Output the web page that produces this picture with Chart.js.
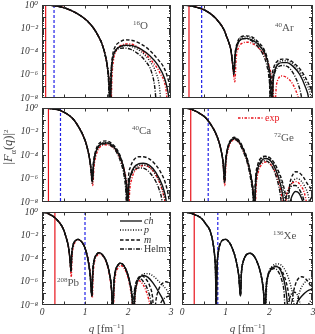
<!DOCTYPE html>
<html><head><meta charset="utf-8">
<script src="https://cdn.jsdelivr.net/npm/chart.js@4.4.1/dist/chart.umd.min.js"></script>
<style>
html,body{margin:0;padding:0;background:#fff;}
#wrap{position:relative;width:315px;height:334px;overflow:hidden;font-family:'Liberation Serif','DejaVu Serif',serif;}
canvas{position:absolute;}
.lbl{position:absolute;font-size:11px;line-height:12px;color:#555;white-space:nowrap;}
.sup{font-size:7px;position:relative;top:-4px;}
.ttl{position:absolute;font-size:11px;line-height:12px;color:#444;white-space:nowrap;text-align:center;}
.ytl{font-size:12.5px;}
</style></head><body><div id="wrap"></div>
<script>
// ---------- tick labels ----------
const Q_TICKS = [0, 1, 2, 3];
const Q_TICK_LABELS = ['0', '1', '2', '3'];
const Y_TICKS = [1, 1e-2, 1e-4, 1e-6, 1e-8];
const Y_TICK_LABELS = ['10\u2070', '10\u207B\u00B2', '10\u207B\u2074', '10\u207B\u2076', '10\u207B\u2078'];
const SERIES_KEYS = ['ch', 'p', 'm', 'h', 'exp'];
const SERIES_LABELS = ['ch', 'p', 'm', 'Helm', 'exp'];

// ---------- 16O ----------
const O16_vlines = [0.085, 0.28];
const O16_lobe1_q = [0,0.2,0.4,0.6,0.8,1.0,1.1,1.2,1.3,1.4,1.47,1.52];
const O16_lobe1 = [1,0.93,0.74,0.45,0.2,0.063,0.028,0.01,2.5e-3,4.0e-4,5.0e-5,5.0e-6];
const O16_ch_q = [1.56,1.585,1.61,1.64,1.70,1.80,1.95,2.1,2.3,2.5,2.7,2.85,2.93,2.98];
const O16_ch = [1.6e-7,1e-9,1e-6,2.0e-5,1.1e-4,2.5e-4,3.5e-4,3.2e-4,1.6e-4,4.5e-5,6.3e-6,5.0e-7,3.2e-8,1e-9];
const O16_m_q = [1.56,1.58,1.61,1.64,1.70,1.80,1.95,2.1,2.3,2.5,2.7,2.85,2.95,3.0];
const O16_m = [2.5e-7,1e-9,1.6e-6,4.0e-5,2.5e-4,6.3e-4,1.0e-3,8.9e-4,4.5e-4,1.3e-4,2.0e-5,3.2e-6,2.5e-7,5.0e-8];
const O16_p_q = [1.56,1.59,1.62,1.65,1.72,1.85,1.95,2.1,2.3,2.5,2.65,2.73,2.78];
const O16_p = [1.3e-7,1e-9,1.6e-6,2.5e-5,1.3e-4,2.8e-4,3.2e-4,2.5e-4,1.0e-4,1.6e-5,1.6e-6,1.0e-7,1e-9];
const O16_h_q = [1.55,1.57,1.60,1.63,1.70,1.80,1.9,2.05,2.2,2.4,2.55,2.62,2.67];
const O16_h = [1.6e-7,1e-9,1e-6,1.6e-5,1e-4,1.8e-4,2.0e-4,1.6e-4,7.9e-5,1.6e-5,1.6e-6,1e-7,1e-9];
const O16_exp_q = [1.56,1.60,1.63,1.66,1.73,1.85,2.0,2.15,2.35,2.55,2.75,2.88,2.93];
const O16_exp = [3.2e-7,1e-9,1e-6,1.6e-5,1.3e-4,3.5e-4,4.5e-4,3.5e-4,1e-4,1.6e-5,1.3e-6,6.3e-8,1e-9];

// ---------- 40Ar ----------
const Ar40_vlines = [0.16, 0.45];
const Ar40_lobe1_q = [0,0.2,0.4,0.53,0.65,0.76,0.85,0.91,0.97,1.02,1.07,1.12];
const Ar40_lobe1 = [1,0.85,0.54,0.35,0.18,0.079,0.032,0.016,6.3e-3,2.0e-3,6.3e-4,1.3e-4];
const Ar40_ch_q = [1.16,1.19,1.22,1.27,1.35,1.47,1.6,1.75,1.9,1.98,2.03,2.06,2.09,2.13,2.2,2.3,2.4,2.55,2.7,2.82,2.9,2.93];
const Ar40_ch = [1e-5,1.3e-6,5.0e-5,4.0e-4,1.1e-3,1.35e-3,1e-3,4.0e-4,6.3e-5,6.3e-6,3.2e-7,1e-9,3.2e-7,2.5e-6,7.9e-6,1.1e-5,1.1e-5,5.0e-6,1e-6,1e-7,1e-8,1e-9];
const Ar40_m_q = [1.16,1.19,1.22,1.27,1.35,1.46,1.6,1.75,1.9,1.97,2.0,2.03,2.06,2.1,2.18,2.3,2.4,2.55,2.7,2.85,3.0];
const Ar40_m = [1e-5,1.6e-6,7.9e-5,6.3e-4,1.8e-3,2.2e-3,1.8e-3,6.3e-4,1e-4,1e-5,5.0e-7,1e-9,5.0e-7,4.0e-6,1.4e-5,2.2e-5,2.2e-5,1.1e-5,3.2e-6,4.0e-7,2.5e-8];
const Ar40_p_q = [1.16,1.19,1.22,1.27,1.35,1.46,1.6,1.75,1.9,1.98,2.02,2.05,2.08,2.12,2.2,2.3,2.4,2.55,2.7,2.85,2.95,2.98];
const Ar40_p = [1e-5,1.6e-6,6.3e-5,5.0e-4,1.6e-3,1.9e-3,1.4e-3,5.0e-4,7.9e-5,7.9e-6,4.0e-7,1e-9,4.0e-7,3.2e-6,1e-5,1.6e-5,1.6e-5,7.9e-6,1.8e-6,1.6e-7,1.3e-8,1e-9];
const Ar40_h_q = [1.16,1.185,1.21,1.26,1.34,1.45,1.58,1.72,1.86,1.95,2.01,2.05,2.08,2.12,2.2,2.3,2.42,2.55,2.65,2.73,2.77];
const Ar40_h = [7.9e-6,1e-6,4.0e-5,3.2e-4,1e-3,1.3e-3,8.9e-4,3.2e-4,5.0e-5,5.0e-6,1.6e-7,1e-9,1.6e-7,1.3e-6,4.5e-6,6.3e-6,5.0e-6,1.3e-6,2.0e-7,1.6e-8,1e-9];
const Ar40_exp_q = [1.16,1.21,1.24,1.29,1.37,1.5,1.63,1.78,1.93,2.02,2.08,2.12,2.16,2.2,2.28,2.38,2.5,2.6,2.68,2.72];
const Ar40_exp = [6.3e-6,2.5e-7,2.5e-5,2.0e-4,5.0e-4,6.3e-4,4.5e-4,1.6e-4,2.5e-5,2.5e-6,1.3e-7,1e-9,1e-7,4.0e-7,7.9e-7,6.3e-7,2.5e-7,5.0e-8,6.3e-9,1e-9];

// ---------- 40Ca ----------
const Ca40_vlines = [0.15, 0.43];
const Ca40_lobe1_q = [0,0.2,0.42,0.6,0.73,0.85,0.95,1.04,1.1];
const Ca40_lobe1 = [1,0.89,0.63,0.28,0.11,0.025,5.0e-3,6.3e-4,6.3e-5];
const Ca40_ch_q = [1.14,1.17,1.20,1.25,1.32,1.42,1.52,1.62,1.75,1.85,1.93,1.97,1.99,2.02,2.07,2.15,2.25,2.35,2.5,2.65,2.8,2.88,2.92];
const Ca40_ch = [6.3e-6,5.0e-7,1.6e-5,1.6e-4,5.6e-4,1e-3,1.05e-3,7.1e-4,2.0e-4,3.2e-5,2.0e-6,1e-7,1e-9,2.5e-7,2.5e-6,1e-5,1.8e-5,2.0e-5,1.3e-5,3.2e-6,2.5e-7,2.0e-8,1e-9];
const Ca40_m_q = [1.14,1.17,1.20,1.25,1.32,1.42,1.5,1.6,1.73,1.84,1.92,1.96,1.98,2.01,2.06,2.14,2.25,2.35,2.5,2.62,2.75,2.87,2.95,2.99];
const Ca40_m = [7.9e-6,6.3e-7,2.5e-5,2.5e-4,8.9e-4,1.5e-3,1.6e-3,1.1e-3,3.5e-4,5.0e-5,3.2e-6,1.3e-7,1e-9,1e-6,1e-5,4.0e-5,7.1e-5,7.1e-5,4.5e-5,1.8e-5,4.0e-6,4.0e-7,2.0e-8,1e-9];
const Ca40_p_q = [1.14,1.17,1.20,1.25,1.32,1.42,1.52,1.62,1.75,1.85,1.93,1.97,1.99,2.02,2.07,2.15,2.25,2.35,2.5,2.65,2.78,2.86,2.9];
const Ca40_p = [6.3e-6,5.0e-7,1.6e-5,1.6e-4,6.3e-4,1.1e-3,1.2e-3,7.9e-4,2.2e-4,3.5e-5,2.2e-6,1e-7,1e-9,2.5e-7,2.0e-6,7.9e-6,1.3e-5,1.4e-5,8.9e-6,2.0e-6,2.0e-7,1.6e-8,1e-9];
const Ca40_h_q = [1.14,1.165,1.19,1.24,1.31,1.41,1.5,1.6,1.73,1.83,1.91,1.95,1.975,2.0,2.05,2.13,2.22,2.32,2.45,2.6,2.72,2.79,2.82];
const Ca40_h = [5.0e-6,4.0e-7,1.3e-5,1.3e-4,5.0e-4,8.5e-4,8.9e-4,6.3e-4,1.8e-4,2.5e-5,1.6e-6,7.9e-8,1e-9,1.6e-7,1.3e-6,4.5e-6,7.6e-6,7.9e-6,5.0e-6,1.1e-6,1.3e-7,1.3e-8,1e-9];
const Ca40_exp_q = [1.14,1.18,1.21,1.26,1.33,1.43,1.53,1.63,1.76,1.86,1.95,1.99,2.01,2.04,2.09,2.17,2.27,2.38,2.5,2.63,2.76,2.85,2.9];
const Ca40_exp = [5.0e-6,2.5e-7,1e-5,1e-4,4.0e-4,7.1e-4,7.4e-4,5.0e-4,1.4e-4,2.0e-5,1.3e-6,6.3e-8,1e-9,1e-7,1e-6,5.0e-6,1e-5,1.3e-5,8.9e-6,2.5e-6,2.5e-7,1.6e-8,1e-9];

// ---------- 72Ge ----------
const Ge72_vlines = [0.2, 0.6];
const Ge72_lobe1_q = [0,0.15,0.3,0.42,0.53,0.65,0.76,0.82,0.87,0.91,0.94];
const Ge72_lobe1 = [1,0.89,0.56,0.32,0.16,0.045,8.9e-3,2.5e-3,6.3e-4,1.3e-4,2.5e-5];
const Ge72_ch_q = [0.96,0.975,1.0,1.05,1.12,1.2,1.3,1.4,1.5,1.58,1.63,1.66,1.69,1.74,1.82,1.9,2.0,2.1,2.2,2.28,2.33,2.36,2.45,2.52,2.6,2.68,2.76,2.86,2.93,3.0];
const Ge72_ch = [3.2e-6,5.0e-7,2.5e-5,4.0e-4,1.6e-3,2.5e-3,1.4e-3,3.2e-4,3.2e-5,1.3e-6,6.3e-8,1e-9,5.0e-7,7.9e-6,3.2e-5,5.0e-5,4.0e-5,1.3e-5,1.6e-6,1.3e-7,1e-8,1e-9,5.0e-9,3.2e-8,7.9e-8,5.6e-8,1.3e-8,1e-9,1.3e-8,4.0e-8];
const Ge72_m_q = [0.96,0.975,1.0,1.05,1.12,1.2,1.3,1.4,1.5,1.58,1.63,1.655,1.685,1.73,1.81,1.9,2.0,2.1,2.2,2.3,2.38,2.43,2.46,2.5,2.55,2.6,2.68,2.78,2.88,2.97,3.0];
const Ge72_m = [4.0e-6,6.3e-7,3.2e-5,5.0e-4,2.0e-3,3.2e-3,1.8e-3,4.0e-4,4.0e-5,1.6e-6,7.9e-8,1e-9,1e-6,1.3e-5,5.6e-5,7.9e-5,6.3e-5,2.5e-5,5.0e-6,5.0e-7,2.5e-8,1e-9,1.6e-7,1e-6,2.5e-6,3.8e-6,3.2e-6,1.3e-6,3.2e-7,1e-7,5.0e-8];
const Ge72_p_q = [0.96,0.975,1.0,1.05,1.12,1.2,1.3,1.4,1.5,1.58,1.63,1.66,1.69,1.74,1.82,1.9,2.0,2.1,2.2,2.3,2.36,2.4,2.44,2.5,2.56,2.63,2.7,2.8,2.9,2.95];
const Ge72_p = [4.0e-6,6.3e-7,2.8e-5,4.5e-4,1.8e-3,2.8e-3,1.6e-3,3.5e-4,3.5e-5,1.4e-6,7.9e-8,1e-9,6.3e-7,1e-5,4.5e-5,7.1e-5,5.6e-5,2.0e-5,3.2e-6,2.5e-7,1.6e-8,1e-9,6.3e-8,3.2e-7,7.1e-7,1e-6,7.9e-7,2.5e-7,2.5e-8,1e-9];
const Ge72_h_q = [0.955,0.97,0.995,1.04,1.11,1.19,1.29,1.39,1.49,1.57,1.62,1.65,1.68,1.73,1.8,1.88,1.98,2.08,2.17,2.24,2.28,2.31,2.38,2.46,2.54,2.6,2.68,2.77,2.83,2.86];
const Ge72_h = [2.5e-6,4.0e-7,2.0e-5,3.2e-4,1.4e-3,2.2e-3,1.3e-3,2.5e-4,2.5e-5,1e-6,5.0e-8,1e-9,3.2e-7,5.0e-6,2.0e-5,3.2e-5,2.5e-5,7.9e-6,1e-6,7.9e-8,6.3e-9,1e-9,2.5e-8,1.3e-7,2.5e-7,2.5e-7,1.3e-7,2.5e-8,3.2e-9,1e-9];
const Ge72_exp_q = [0.96,0.98,1.005,1.055,1.125,1.21,1.31,1.41,1.51,1.59,1.64,1.67,1.7,1.75,1.83,1.91,2.0,2.1,2.18,2.26,2.3,2.33,2.4,2.48,2.56,2.62,2.7,2.8,2.86,2.9];
const Ge72_exp = [2.0e-6,2.5e-7,1.6e-5,2.8e-4,1.3e-3,2.0e-3,1.1e-3,2.2e-4,2.0e-5,7.9e-7,4.0e-8,1e-9,2.5e-7,4.0e-6,1.6e-5,2.5e-5,2.0e-5,6.3e-6,1.3e-6,1e-7,1e-8,1e-9,5.0e-8,2.5e-7,5.0e-7,5.4e-7,3.2e-7,6.3e-8,6.3e-9,1e-9];

// ---------- 208Pb ----------
const Pb208_vlines = [0.3, 1.0];
const Pb208_lobe1_q = [0,0.1,0.2,0.26,0.33,0.4,0.46,0.52,0.57,0.61,0.64];
const Pb208_lobe1 = [1,0.85,0.56,0.42,0.25,0.13,0.063,0.02,5.0e-3,1.3e-3,2.0e-4];
const Pb208_core_q = [0.66,0.675,0.69,0.72,0.78,0.84,0.92,1.0,1.07,1.12,1.16,1.18,1.21,1.27,1.33,1.41,1.5,1.57,1.62,1.645,1.67,1.7,1.76,1.82,1.9,1.98,2.05,2.1];
const Pb208_core = [3.2e-5,7.9e-6,2.0e-4,1.3e-3,3.5e-3,4.4e-3,2.8e-3,7.9e-4,7.9e-5,4.0e-6,6.3e-8,6.3e-6,6.3e-5,2.2e-4,3.2e-4,2.0e-4,5.0e-5,5.0e-6,1.6e-7,1e-9,5.0e-7,6.3e-6,2.5e-5,4.0e-5,2.5e-5,6.3e-6,6.3e-7,3.2e-8];
const Pb208_ch_q = [2.13,2.16,2.2,2.28,2.36,2.46,2.58,2.7,2.82,2.9,2.93];
const Pb208_ch = [1e-9,6.3e-8,6.3e-7,2.5e-6,3.5e-6,2.5e-6,7.9e-7,1.6e-7,2.5e-8,3.2e-9,1e-9];
const Pb208_p_q = [2.14,2.17,2.22,2.3,2.4,2.47,2.6,2.75,2.9,3.0];
const Pb208_p = [1e-9,1e-7,1e-6,3.2e-6,5.0e-6,5.0e-6,2.8e-6,7.9e-7,2.0e-7,5.0e-8];
const Pb208_m_q = [2.12,2.15,2.19,2.25,2.32,2.4,2.5,2.57,2.61,2.65,2.72,2.8,2.88,2.95,3.0];
const Pb208_m = [1e-9,1e-7,7.9e-7,2.5e-6,3.2e-6,2.0e-6,5.0e-7,5.0e-8,1e-9,2.5e-8,2.5e-7,7.1e-7,1e-6,7.9e-7,5.0e-7];
const Pb208_h_q = [2.11,2.14,2.18,2.23,2.28,2.36,2.45,2.53,2.6,2.68,2.78,2.9,3.0];
const Pb208_h = [1e-9,7.9e-8,6.3e-7,1.6e-6,1.8e-6,1e-6,2.5e-7,2.5e-8,1e-9,2.5e-9,2.0e-8,5.0e-8,6.3e-8];
const Pb208_exp_q = [0.66,0.68,0.70,0.73,0.79,0.85,0.93,1.01,1.08,1.13,1.17,1.19,1.22,1.28,1.34,1.42,1.5,1.57,1.62,1.65,1.68,1.71,1.77,1.83,1.9,1.98,2.05,2.1,2.13,2.16,2.2,2.24,2.3,2.4,2.48,2.54,2.56];
const Pb208_exp = [2.5e-5,2.5e-6,1.6e-4,1e-3,3.2e-3,4.0e-3,2.5e-3,6.3e-4,6.3e-5,3.2e-6,4.0e-8,4.0e-6,5.0e-5,1.8e-4,2.5e-4,1.6e-4,4.0e-5,3.2e-6,1e-7,1e-9,3.2e-7,4.0e-6,1.6e-5,2.5e-5,1.6e-5,4.0e-6,3.2e-7,1.6e-8,1e-9,5.0e-8,5.0e-7,1.3e-6,1e-6,2.5e-7,3.2e-8,2.5e-9,1e-9];

// ---------- 136Xe ----------
const Xe136_vlines = [0.28, 0.82];
const Xe136_lobe1_q = [0,0.1,0.2,0.3,0.37,0.46,0.56,0.63,0.68,0.72,0.75];
const Xe136_lobe1 = [1,0.93,0.79,0.56,0.45,0.25,0.079,0.032,7.9e-3,1.3e-3,1.3e-4];
const Xe136_core_q = [0.77,0.78,0.8,0.83,0.88,0.95,1.0,1.08,1.16,1.24,1.3,1.34,1.36,1.4,1.47,1.56,1.65,1.74,1.82,1.87];
const Xe136_core = [3.2e-6,1e-9,1e-5,3.2e-4,2.0e-3,4.2e-3,4.4e-3,2.5e-3,6.3e-4,6.3e-5,3.2e-6,6.3e-8,5.0e-6,5.0e-5,2.0e-4,2.8e-4,1.6e-4,3.2e-5,2.5e-6,1e-7];
const Xe136_ch_q = [1.9,1.93,1.97,2.05,2.15,2.22,2.3,2.37,2.41,2.43,2.55,2.65,2.75,2.87,3.0];
const Xe136_ch = [1e-9,3.2e-7,3.2e-6,1.3e-5,2.0e-5,1.6e-5,4.0e-6,3.2e-7,1.6e-8,1e-9,2.5e-9,2.0e-8,6.3e-8,1.6e-7,2.5e-7];
const Xe136_p_q = [1.91,1.94,1.98,2.06,2.18,2.28,2.4,2.5,2.56,2.59,2.65,2.72,2.8,2.88,2.97,3.0];
const Xe136_p = [1e-9,4.0e-7,5.0e-6,2.0e-5,3.5e-5,2.5e-5,5.0e-6,3.2e-7,1.6e-8,1e-9,3.2e-8,2.5e-7,7.9e-7,1.4e-6,2.0e-6,2.0e-6];
const Xe136_m_q = [1.9,1.93,1.97,2.05,2.15,2.25,2.35,2.43,2.47,2.49,2.53,2.6,2.67,2.74,2.82,2.92,3.0];
const Xe136_m = [1e-9,4.0e-7,4.0e-6,1.6e-5,2.2e-5,1.4e-5,2.5e-6,1.6e-7,1e-8,1e-9,4.0e-8,6.3e-7,2.0e-6,2.7e-6,2.0e-6,6.3e-7,1.6e-7];
const Xe136_h_q = [1.89,1.92,1.96,2.04,2.12,2.2,2.28,2.34,2.37,2.45,2.55,2.65,2.72,2.75,2.85,2.95,3.0];
const Xe136_h = [1e-9,2.5e-7,2.5e-6,1e-5,1.4e-5,7.9e-6,1.6e-6,1e-7,1e-9,2.5e-8,1.3e-7,6.3e-8,6.3e-9,1e-9,5.0e-9,2.5e-8,4.0e-8];

// ---------- assembly ----------
const cat = (...arrs) => [].concat(...arrs);
const PANELS = [
  {col:0,row:0,label:'<span class="sup">16</span>O',lx:133,ly:19,vlines:O16_vlines,series:{
    ch:[cat(O16_lobe1_q,O16_ch_q),cat(O16_lobe1,O16_ch)],
    p:[cat(O16_lobe1_q,O16_p_q),cat(O16_lobe1,O16_p)],
    m:[cat(O16_lobe1_q,O16_m_q),cat(O16_lobe1,O16_m)],
    h:[cat(O16_lobe1_q,O16_h_q),cat(O16_lobe1,O16_h)],
    exp:[cat(O16_lobe1_q,O16_exp_q),cat(O16_lobe1,O16_exp)]}},
  {col:1,row:0,label:'<span class="sup">40</span>Ar',lx:275,ly:21,vlines:Ar40_vlines,series:{
    ch:[cat(Ar40_lobe1_q,Ar40_ch_q),cat(Ar40_lobe1,Ar40_ch)],
    p:[cat(Ar40_lobe1_q,Ar40_p_q),cat(Ar40_lobe1,Ar40_p)],
    m:[cat(Ar40_lobe1_q,Ar40_m_q),cat(Ar40_lobe1,Ar40_m)],
    h:[cat(Ar40_lobe1_q,Ar40_h_q),cat(Ar40_lobe1,Ar40_h)],
    exp:[cat(Ar40_lobe1_q,Ar40_exp_q),cat(Ar40_lobe1,Ar40_exp)]}},
  {col:0,row:1,label:'<span class="sup">40</span>Ca',lx:132,ly:124,vlines:Ca40_vlines,series:{
    ch:[cat(Ca40_lobe1_q,Ca40_ch_q),cat(Ca40_lobe1,Ca40_ch)],
    p:[cat(Ca40_lobe1_q,Ca40_p_q),cat(Ca40_lobe1,Ca40_p)],
    m:[cat(Ca40_lobe1_q,Ca40_m_q),cat(Ca40_lobe1,Ca40_m)],
    h:[cat(Ca40_lobe1_q,Ca40_h_q),cat(Ca40_lobe1,Ca40_h)],
    exp:[cat(Ca40_lobe1_q,Ca40_exp_q),cat(Ca40_lobe1,Ca40_exp)]}},
  {col:1,row:1,label:'<span class="sup">72</span>Ge',lx:274,ly:131,vlines:Ge72_vlines,expLegend:true,series:{
    ch:[cat(Ge72_lobe1_q,Ge72_ch_q),cat(Ge72_lobe1,Ge72_ch)],
    p:[cat(Ge72_lobe1_q,Ge72_p_q),cat(Ge72_lobe1,Ge72_p)],
    m:[cat(Ge72_lobe1_q,Ge72_m_q),cat(Ge72_lobe1,Ge72_m)],
    h:[cat(Ge72_lobe1_q,Ge72_h_q),cat(Ge72_lobe1,Ge72_h)],
    exp:[cat(Ge72_lobe1_q,Ge72_exp_q),cat(Ge72_lobe1,Ge72_exp)]}},
  {col:0,row:2,label:'<span class="sup">208</span>Pb',lx:57,ly:276,vlines:Pb208_vlines,mainLegend:true,series:{
    ch:[cat(Pb208_lobe1_q,Pb208_core_q,Pb208_ch_q),cat(Pb208_lobe1,Pb208_core,Pb208_ch)],
    p:[cat(Pb208_lobe1_q,Pb208_core_q,Pb208_p_q),cat(Pb208_lobe1,Pb208_core,Pb208_p)],
    m:[cat(Pb208_lobe1_q,Pb208_core_q,Pb208_m_q),cat(Pb208_lobe1,Pb208_core,Pb208_m)],
    h:[cat(Pb208_lobe1_q,Pb208_core_q,Pb208_h_q),cat(Pb208_lobe1,Pb208_core,Pb208_h)],
    exp:[cat(Pb208_lobe1_q,Pb208_exp_q),cat(Pb208_lobe1,Pb208_exp)]}},
  {col:1,row:2,label:'<span class="sup">136</span>Xe',lx:273,ly:229,vlines:Xe136_vlines,series:{
    ch:[cat(Xe136_lobe1_q,Xe136_core_q,Xe136_ch_q),cat(Xe136_lobe1,Xe136_core,Xe136_ch)],
    p:[cat(Xe136_lobe1_q,Xe136_core_q,Xe136_p_q),cat(Xe136_lobe1,Xe136_core,Xe136_p)],
    m:[cat(Xe136_lobe1_q,Xe136_core_q,Xe136_m_q),cat(Xe136_lobe1,Xe136_core,Xe136_m)],
    h:[cat(Xe136_lobe1_q,Xe136_core_q,Xe136_h_q),cat(Xe136_lobe1,Xe136_core,Xe136_h)]}}
];

const COLS = [{left:0,width:175,padL:0,padR:4,yAxis:true},{left:178,width:137,padL:4,padR:2,yAxis:false}];
const ROWS = [{top:0,height:104,padT:5,padB:6,xAxis:false},{top:102,height:106,padT:6,padB:6,xAxis:false},{top:206,height:128,padT:6,padB:0,xAxis:true}];
const RED = '#e8141c', BLUE = '#2020e8', INK = '#111';
const STYLE = {
  ch:{color:INK,dash:[]},
  p:{color:INK,dash:[1,1.6]},
  m:{color:INK,dash:[3.5,2]},
  h:{color:INK,dash:[4,1.5,1,1.5]},
  exp:{color:RED,dash:[2.5,1.5,1,1.5]}
};
const FONT = "'Liberation Serif','DejaVu Serif',serif";
const X_MINOR = [0.5,1,1.5,2,2.5];

const framePlugin = {
  id:'frame',
  afterDraw(chart){
    const {ctx, chartArea:a} = chart;
    const xs = chart.scales.x, ys = chart.scales.y;
    ctx.save();
    ctx.strokeStyle = '#333'; ctx.lineWidth = 1; ctx.setLineDash([]);
    ctx.strokeRect(a.left+0.5, a.top+0.5, a.right-a.left-1, a.bottom-a.top-1);
    ctx.beginPath();
    for (const q of X_MINOR) {
      const px = Math.round(xs.getPixelForValue(q))+0.5;
      ctx.moveTo(px,a.bottom); ctx.lineTo(px,a.bottom-3.5);
      ctx.moveTo(px,a.top); ctx.lineTo(px,a.top+3.5);
    }
    for (let n=-8;n<0;n++) for (let k=1;k<=9;k++) {
      if (n===-8 && k===1) continue;
      const v = k*Math.pow(10,n);
      const py = Math.round(ys.getPixelForValue(v))+0.5;
      const L = k===1?4:2;
      ctx.moveTo(a.left,py); ctx.lineTo(a.left+L,py);
      ctx.moveTo(a.right,py); ctx.lineTo(a.right-L,py);
    }
    ctx.stroke();
    const spec = chart.$legendSpec;
    if (spec) {
      for (const it of spec) {
        const st = STYLE[it.key];
        ctx.beginPath(); ctx.strokeStyle = st.color; ctx.lineWidth = 1.3; ctx.setLineDash(st.dash);
        ctx.moveTo(it.x0,it.y); ctx.lineTo(it.x1,it.y); ctx.stroke();
        ctx.setLineDash([]);
        ctx.font = (it.italic?'italic ':'') + '10px ' + FONT;
        ctx.fillStyle = it.color || '#333'; ctx.textBaseline = 'middle'; ctx.textAlign='left';
        ctx.fillText(it.text, it.x1+2, it.y+0.5);
      }
    }
    ctx.restore();
  }
};

const wrap = document.getElementById('wrap');
PANELS.forEach((P, idx) => {
  const C = COLS[P.col], R = ROWS[P.row];
  const cv = document.createElement('canvas');
  cv.width = C.width; cv.height = R.height;
  cv.style.left = C.left+'px'; cv.style.top = R.top+'px';
  cv.style.width = C.width+'px'; cv.style.height = R.height+'px';
  wrap.appendChild(cv);
  const datasets = [];
  SERIES_KEYS.forEach((key, si) => {
    const s = P.series[key]; if (!s) return;
    datasets.push({
      label: SERIES_LABELS[si],
      data: s[0].map((q,i)=>({x:q, y:s[1][i]})),
      borderColor: STYLE[key].color, borderDash: STYLE[key].dash, borderWidth: 1.4,
      pointRadius: 0, fill: false, cubicInterpolationMode: 'monotone',
      order: key==='exp' ? 5 : 1
    });
  });
  datasets.push({label:'vred', data:[{x:P.vlines[0],y:1},{x:P.vlines[0],y:1e-8}], borderColor:RED, borderWidth:1.2, pointRadius:0, order:10});
  datasets.push({label:'vblue', data:[{x:P.vlines[1],y:1},{x:P.vlines[1],y:1e-8}], borderColor:BLUE, borderDash:[3,2], borderWidth:1.2, pointRadius:0, order:10});

  const chart = new Chart(cv, {
    type:'line',
    data:{datasets},
    options:{
      responsive:false, animation:false, devicePixelRatio:1,
      layout:{padding:{top:R.padT,bottom:R.padB,left:C.padL,right:C.padR}},
      plugins:{legend:{display:false}, tooltip:{enabled:false}},
      scales:{
        x:{type:'linear', min:0, max:3, display:R.xAxis,
           grid:{display:false, drawTicks:false}, border:{display:false},
           afterBuildTicks:(s)=>{ s.ticks = Q_TICKS.map(v=>({value:v})); },
           afterFit:(s)=>{ if (R.xAxis) s.height = 29; s.paddingLeft = 0; s.paddingRight = 0; },
           ticks:{autoSkip:false, maxRotation:0, padding:2, color:'#333',
                  font:{family:FONT, size:9.5, style:'italic'},
                  callback:(v,i)=>Q_TICK_LABELS[i]}},
        y:{type:'logarithmic', min:1e-8, max:1, display:C.yAxis,
           grid:{display:false, drawTicks:false}, border:{display:false},
           afterBuildTicks:(s)=>{ s.ticks = Y_TICKS.map(v=>({value:v})); },
           afterFit:(s)=>{ if (C.yAxis) s.width = 42; s.paddingTop = 0; s.paddingBottom = 0; },
           ticks:{autoSkip:false, padding:4, color:'#333',
                  font:{family:FONT, size:9.5, style:'italic'},
                  callback:(v,i)=>Y_TICK_LABELS[i]}}
      }
    },
    plugins:[framePlugin]
  });
  if (P.mainLegend) {
    chart.$legendSpec = [
      {key:'ch', text:SERIES_LABELS[0], italic:true, x0:120, x1:142, y:15},
      {key:'p', text:SERIES_LABELS[1], italic:true, x0:120, x1:142, y:24},
      {key:'m', text:SERIES_LABELS[2], italic:true, x0:120, x1:142, y:34},
      {key:'h', text:SERIES_LABELS[3], italic:false, x0:120, x1:142, y:43}
    ];
    chart.draw();
  }
  if (P.expLegend) {
    chart.$legendSpec = [{key:'exp', text:SERIES_LABELS[4], italic:false, x0:60, x1:85, y:16, color:RED}];
    chart.draw();
  }
  const lab = document.createElement('div');
  lab.className = 'lbl'; lab.style.left = P.lx+'px'; lab.style.top = P.ly+'px';
  lab.innerHTML = P.label;
  wrap.appendChild(lab);
});

// axis titles
function addTitle(html, cx, cy, w, rot, extra){
  const d = document.createElement('div');
  d.className = 'ttl' + (extra ? ' '+extra : ''); d.innerHTML = html;
  d.style.width = w+'px'; d.style.left = (cx - w/2)+'px'; d.style.top = (cy-6)+'px';
  if (rot) d.style.transform = 'rotate(-90deg)';
  wrap.appendChild(d);
}
const X_TITLE = '<i>q</i> [fm<span class="sup">\u22121</span>]';
const Y_TITLE = '|<i>F</i><sub style="font-size:8px;line-height:0">\u03B1</sub>(<i>q</i>)|<span class="sup">2</span>';
addTitle(X_TITLE, 106.5, 328, 80, false);
addTitle(X_TITLE, 247.5, 328, 80, false);
addTitle(Y_TITLE, 9, 146, 60, true, 'ytl');
</script></body></html>
